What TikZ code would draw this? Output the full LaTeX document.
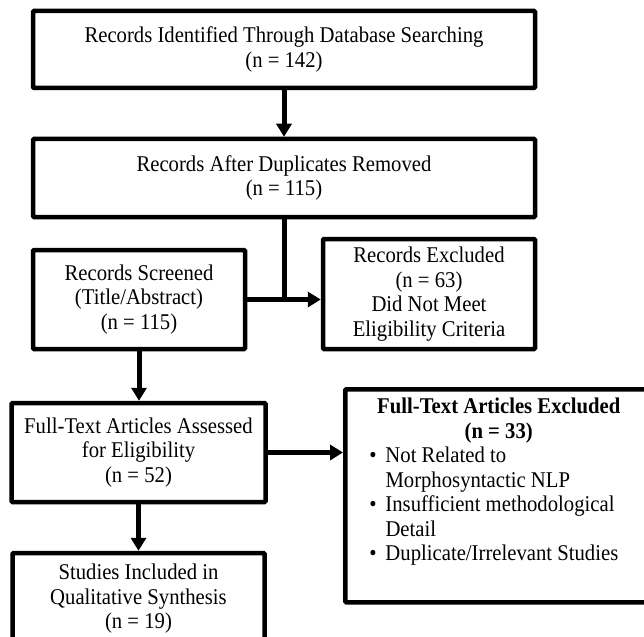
\documentclass[tikz,border=0pt]{standalone}
\usepackage{fontspec}
\setmainfont{Liberation Serif}[FakeStretch=0.92]
\usepackage{tikz}
\usetikzlibrary{arrows.meta}
\usetikzlibrary{calc}

\begin{document}
\begin{tikzpicture}[x=1pt, y=-1pt,
        font=\fontsize{22.5}{24.5}\selectfont,
        stagebox/.style={draw, line width=4.5pt, rounded corners=1pt, align=center, inner sep=4pt},
        flowline/.style={line width=5pt},
        flowarrow/.style={line width=5pt, -{Triangle[length=13pt, width=15pt]}}]

        \useasboundingbox (0,0) rectangle (644,636);

        \node[stagebox, minimum width=502pt, minimum height=77pt] (ident) at (284, 49.5)
        {Records Identified Through Database Searching\\(n = 142)};

        \node[stagebox, minimum width=502pt, minimum height=78pt] (dedup) at (284, 178)
        {Records After Duplicates Removed\\(n = 115)};

        \node[stagebox, minimum width=212pt, minimum height=99pt] (screen) at (139, 299.5)
        {Records Screened\\(Title/Abstract)\\(n = 115)};

        \node[stagebox, minimum width=212pt, minimum height=110pt] (recexcl) at (429, 294)
        {Records Excluded\\(n = 63)\\Did Not Meet\\Eligibility Criteria};

        \node[stagebox, minimum width=254pt, minimum height=99pt] (assess) at (138.5, 452.5)
        {Full-Text Articles Assessed\\for Eligibility\\(n = 52)};

        \node[stagebox, anchor=north west, inner xsep=10pt, inner ysep=9pt] (ftexcl) at (343, 387)
        {\begin{minipage}[t][195pt][t]{287pt}
            \centering{\bfseries Full-Text Articles Excluded\\(n = 33)\par}
            \raggedright\hspace*{14pt}\begin{tabular}[t]{@{}l@{\hspace{9pt}}l@{}}
              \textbullet & Not Related to\\
                          & Morphosyntactic NLP\\
              \textbullet & Insufficient methodological\\
                          & Detail\\
              \textbullet & Duplicate/Irrelevant Studies
            \end{tabular}
          \end{minipage}};

        \node[stagebox, minimum width=252pt, minimum height=92pt] (incl) at (138.5, 599)
        {Studies Included in\\Qualitative Synthesis\\(n = 19)};

        % connectors
        \coordinate (split) at (dedup.south |- screen.east);
        \draw[flowarrow] (ident) -- (dedup);
        \draw[flowline] (dedup.south) -- (split);
        \draw[flowarrow] (screen.east) -- (screen.east -| recexcl.west);
        \draw[flowarrow] (screen.south) -- (screen.south |- assess.north);
        \draw[flowarrow] (assess.east) -- (assess.east -| ftexcl.west);
        \draw[flowarrow] (assess) -- (incl);
\end{tikzpicture}
\end{document}
